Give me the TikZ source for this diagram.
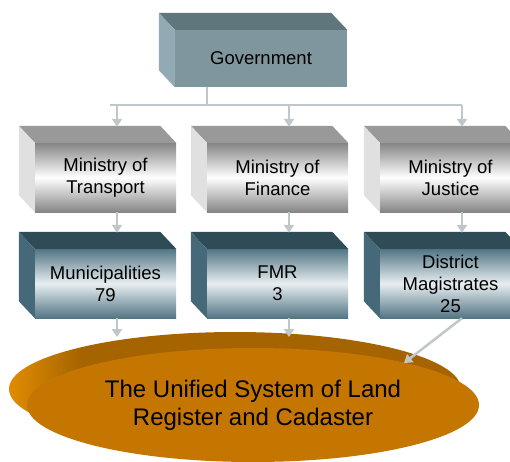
\documentclass[tikz,border=0pt]{standalone}
\usepackage{fontspec}
\setmainfont{Liberation Sans}
\usetikzlibrary{arrows.meta,shapes.geometric}

\definecolor{govfront}{HTML}{7F969F}
\definecolor{govtop}{HTML}{5F767D}
\definecolor{govside}{HTML}{92AAB4}
\definecolor{mintop}{HTML}{999999}
\definecolor{minside}{HTML}{E0E0E0}
\definecolor{minedge}{HTML}{858585}
\definecolor{offtop}{HTML}{2F4B56}
\definecolor{offside}{HTML}{46697A}
\definecolor{offedge}{HTML}{527584}
\definecolor{offmid}{HTML}{E8EEF1}
\definecolor{ellfront}{HTML}{C47600}
\definecolor{ellback}{HTML}{A56400}
\definecolor{ellleft}{HTML}{E08C00}
\definecolor{linkgray}{HTML}{BFC7CB}

\pgfdeclarehorizontalshading{ellside}{100bp}{color(0bp)=(ellleft); color(25bp)=(ellleft);
  color(33bp)=(ellback); color(100bp)=(ellback)}

% top and left faces of a box drawn behind node #1
\newcommand{\boxfaces}[3]{%
  \fill[#2] (#1.north west) -- ++(-16,-17) -- ([shift={(-16,-17)}]#1.north east) -- (#1.north east) -- cycle;
  \fill[#3] (#1.north west) -- ++(-16,-17) -- ([shift={(-16,-17)}]#1.south west) -- (#1.south west) -- cycle;
}

\tikzset{
  face/.style={rectangle, inner sep=0pt, align=center, text=black,
    font=\fontsize{18.5}{22}\selectfont},
  govface/.style={face, fill=govfront, minimum width=172pt, minimum height=57pt},
  minface/.style={face, minimum width=141pt, minimum height=69pt,
    top color=minedge, bottom color=minedge, middle color=white},
  offface/.style={face, minimum width=141pt, minimum height=69pt,
    top color=offedge, bottom color=offedge, middle color=offmid},
  link/.style={draw=linkgray, line width=2.5pt},
  linkarrow/.style={link, -{Triangle[width=10pt,length=8pt]}}
}

\begin{document}
\begin{tikzpicture}[x=1pt,y=-1pt]
  \clip (0,0) rectangle (510,461);

  % government
  \node[govface] (gov) at (261,58.5) {Government};
  \boxfaces{gov}{govtop}{govside}

  % ministries
  \node[minface] (mtr) at (105.5,177.5) {Ministry of\\Transport};
  \node[minface] (mfi) at (277.5,177.5) {Ministry of\\Finance};
  \node[minface] (mju) at (450.5,177.5) {Ministry of\\Justice};
  \boxfaces{mtr}{mintop}{minside}
  \boxfaces{mfi}{mintop}{minside}
  \boxfaces{mju}{mintop}{minside}

  % offices
  \node[offface] (mun) at (105.5,283.5) {Municipalities\\79};
  \node[offface] (fmr) at (277.5,283.5) {FMR\\3};
  \node[offface] (mag) at (450.5,283.5) {District\\Magistrates\\25};
  \boxfaces{mun}{offtop}{offside}
  \boxfaces{fmr}{offtop}{offside}
  \boxfaces{mag}{offtop}{offside}

  % unified system
  \shade[shading=ellside] (235,389) ellipse [x radius=226, y radius=57];
  \node[ellipse, fill=ellfront, minimum width=452pt, minimum height=114pt,
    inner sep=0pt, align=center, font=\fontsize{24}{28}\selectfont]
    (usl) at (253,405) {The Unified System of Land\\Register and Cadaster};

  % connectors
  \coordinate (busl) at (110,105);
  \coordinate (busr) at (462,105);
  \coordinate (hitmun) at (117,337);
  \coordinate (hitfmr) at (289,337);
  \coordinate (hitmag) at (404,363);
  \draw[link] ([xshift=-54pt]gov.south) -- ([xshift=-54pt]gov.south |- busl);
  \draw[link] (busl) -- (busr);
  \foreach \m in {mtr,mfi,mju}
    \draw[linkarrow] ([xshift=11.5pt]\m.north |- busl) -- ([shift={(11.5,-16)}]\m.north);
  \draw[linkarrow] ([xshift=11.5pt]mtr.south) -- ([shift={(11.5,-16)}]mun.north);
  \draw[linkarrow] ([xshift=11.5pt]mfi.south) -- ([shift={(11.5,-16)}]fmr.north);
  \draw[linkarrow] ([xshift=11.5pt]mju.south) -- ([shift={(11.5,-16)}]mag.north);
  \draw[linkarrow] ([xshift=11.5pt]mun.south) -- (hitmun);
  \draw[linkarrow] ([xshift=11.5pt]fmr.south) -- (hitfmr);
  \draw[linkarrow] ([xshift=11.5pt]mag.south) -- (hitmag);
\end{tikzpicture}
\end{document}
